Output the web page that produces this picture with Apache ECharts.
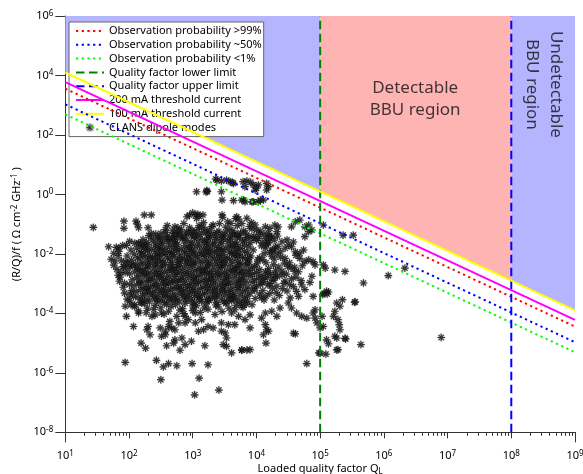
<!DOCTYPE html>
<html><head><meta charset="utf-8">
<script src="https://cdn.jsdelivr.net/npm/echarts@6/dist/echarts.min.js"></script>
<style>html,body{margin:0;padding:0;background:#fff}#c{width:583px;height:474px}</style>
</head><body><div id="c"></div>
<script>
// ---------- axis data ----------
const xMajorTicks = [1e1, 1e2, 1e3, 1e4, 1e5, 1e6, 1e7, 1e8, 1e9];
const yMajorTicks = [1e-8, 1e-6, 1e-4, 1e-2, 1e0, 1e2, 1e4, 1e6];
const minorMultipliers = [2, 3, 4, 5, 6, 7, 8, 9];
const xEndTicks = [1e1, 1e9];

// ---------- reference lines (endpoints) ----------
const obs99 = [[1e1, 3.6e3], [1e9, 3.6e-5]];
const obs50 = [[1e1, 1.07e3], [1e9, 1.07e-5]];
const obs1 = [[1e1, 4.9e2], [1e9, 4.9e-6]];
const qLower = [[1e5, 1e-8], [1e5, 1e6]];
const qUpper = [[1e8, 1e-8], [1e8, 1e6]];
const thr200 = [[1e1, 6.0e3], [1e9, 6.0e-5]];
const thr100 = [[1e1, 1.26e4], [1e9, 1.26e-4]];

// ---------- shaded regions: [q0, q1, lower at q0, lower at q1, top] ----------
const regions = [
  [1e1, 1e5, 1.26e4, 1.26, 1e6],
  [1e5, 1e8, 1.26, 1.26e-3, 1e6],
  [1e8, 1e9, 1.26e-3, 1.26e-4, 1e6]
];
const regionColors = ['#b4b4ff', '#ffb4b4', '#b4b4ff'];

// ---------- annotation anchor points ----------
const detectableAt = [3.1e6, 1.62e3];
const undetectableAt = [3.3e8, 5.0e3];

// ---------- CLANS dipole modes: pairs of (log10 QL, log10 (R/Q)/f) ----------
const clansIsolated = `
1.44,-1.11 1.92,-0.90 1.92,-1.14 2.11,-0.90 2.13,-1.00 2.15,-1.12 2.24,-0.69 2.35,-0.69 2.30,-1.12 2.35,-1.31 2.50,-1.31
1.68,-1.76 1.84,-1.80 1.96,-1.72 1.83,-2.06 1.78,-2.24 2.09,-1.64 2.24,-1.73 1.91,-2.43 2.04,-2.38
2.91,-0.75 2.95,-0.69 3.00,-0.62 3.05,-0.69 3.08,-0.67 3.10,-0.73 3.06,-0.81 3.16,-0.69 3.46,-0.69 3.69,-0.75
2.72,-1.09 2.77,-1.12 2.82,-1.18 2.95,-1.12 3.01,-1.28 3.08,-1.18 3.10,-1.05
3.32,-1.03 3.42,-0.98 3.47,-0.77 3.60,-0.98 3.67,-0.81 3.72,-0.83 3.77,-0.98 3.85,-0.80
2.62,-1.53 2.72,-1.42 2.77,-1.31
3.06,0.09 3.21,0.08 3.23,0.10 3.45,0.09 3.22,0.13
3.46,-0.19 3.64,-0.21 3.80,-0.19 3.95,-0.25 4.11,-0.19 3.77,-0.19 3.82,-0.25 3.93,-0.25
3.38,0.48 3.53,0.48 3.59,0.43 3.64,0.37 3.79,0.43 3.82,0.26 3.95,0.32 3.98,0.15 4.03,0.32 4.16,0.37 3.85,0.45 3.91,0.41 3.36,0.52 3.45,0.45 3.62,0.40
4.03,-0.25 4.06,-0.19 4.00,0.21 4.16,0.15 4.19,0.26
3.98,-1.03 4.14,-1.09 4.21,-1.14 4.29,-1.03 4.34,-1.09 4.32,-1.25 4.19,-1.31 4.24,-1.42 4.14,-1.48 4.03,-1.48
4.55,-1.09 4.61,-0.92 4.68,-0.86 4.76,-1.09 4.82,-1.03 4.82,-1.25 4.76,-1.42 4.87,-1.20
4.40,-1.59 4.48,-1.53 4.34,-1.76 4.45,-1.81 4.55,-1.76 4.61,-1.93 4.68,-1.98 4.74,-1.87 4.76,-2.26 4.82,-2.20 4.89,-2.26 4.92,-2.37
5.05,-1.03 5.36,-1.37 5.52,-1.37 5.05,-2.37 5.08,-2.48 5.23,-2.54 5.39,-2.59
6.07,-2.73 6.33,-2.48 5.68,-2.98 5.10,-3.26 5.13,-3.28 5.06,-3.33 5.04,-3.37 5.11,-3.35 5.35,-3.54 5.54,-3.63
5.26,-3.65 5.31,-3.76 5.23,-3.93 5.21,-4.10 5.28,-4.21 5.30,-4.38 5.31,-4.55 5.23,-4.77 5.26,-4.83 5.10,-4.89 5.13,-5.02
5.40,-4.86 5.64,-5.05 5.28,-5.22 5.09,-5.37 4.98,-5.33 4.79,-5.69 5.55,-3.61 6.90,-4.81 5.00,-5.34 5.26,-5.23 5.39,-4.84
4.89,-3.43 4.92,-3.88 5.03,-4.10 4.89,-3.99 4.92,-4.16 4.95,-4.32 5.05,-4.44 5.00,-4.49 4.61,-4.69 4.15,-5.00
4.87,-2.75 4.84,-2.96 4.71,-3.04 4.76,-3.20 4.63,-3.26 4.66,-3.43 4.53,-3.48 4.50,-3.65 4.37,-3.82 4.55,-3.82 4.63,-3.99
4.71,-4.10 4.79,-4.16 4.32,-4.10 4.24,-3.93 4.14,-3.99 4.08,-4.16 4.14,-4.38 4.16,-4.55 4.11,-4.72 4.19,-4.60 4.58,-4.67 3.85,-5.23 3.77,-5.23
1.94,-5.65 2.19,-5.00 2.26,-5.17 2.43,-5.58 2.54,-5.80 2.62,-5.69 2.75,-5.76 2.99,-5.69 3.24,-5.73 2.50,-6.23 3.10,-6.18 3.03,-6.74 3.41,-6.58
2.59,-5.09 2.70,-5.00 2.72,-4.89 2.80,-5.24 2.83,-4.83 2.88,-5.05 2.98,-4.94 3.19,-5.09
3.45,-4.60 3.51,-4.66 3.53,-4.83 3.48,-5.05 3.53,-5.11 3.61,-5.33 3.77,-5.24 3.90,-5.22 3.90,-4.49 3.56,-4.38 3.66,-4.38 3.45,-4.32
2.07,-4.44 1.96,-4.10 1.94,-3.76 2.28,-4.55 2.33,-4.72 2.30,-4.44 2.49,-4.49 2.57,-4.60 2.62,-4.44 2.67,-4.49 2.72,-4.55 2.51,-4.77 2.57,-4.72
3.04,-4.32 3.09,-4.60 3.17,-4.55 3.24,-4.44 3.32,-4.49 2.88,-4.32 2.93,-4.21 2.78,-4.32
3.72,-4.10 3.82,-4.21 3.90,-4.05 3.77,-3.76 3.79,-3.60 3.93,-3.71 3.64,-3.48 3.61,-3.99
2.15,-3.99 2.09,-3.71 2.20,-3.65 2.36,-4.10 2.41,-4.05 2.51,-3.99 2.64,-4.27 2.75,-4.10 2.88,-4.10 3.04,-3.99 3.14,-4.21
`;
const clansCluster = `
2.57,-1.18 2.78,-1.23 2.99,-1.21 3.19,-1.17 3.41,-1.24 3.58,-1.19 3.80,-1.22 3.93,-1.16
2.42,-1.33 2.58,-1.28 2.71,-1.31 2.90,-1.27 3.06,-1.34 3.21,-1.29 3.33,-1.32 3.52,-1.27 3.66,-1.33 3.83,-1.30 4.12,-1.33
2.31,-1.38 2.45,-1.43 2.60,-1.41 2.72,-1.37 2.85,-1.44 2.98,-1.39 3.10,-1.42 3.25,-1.36 3.37,-1.43 3.49,-1.40 3.63,-1.37 3.74,-1.44 3.88,-1.41 4.20,-1.42
2.22,-1.52 2.35,-1.47 2.47,-1.53 2.56,-1.49 2.69,-1.51 2.80,-1.46 2.91,-1.54 3.03,-1.48 3.15,-1.52 3.24,-1.47 3.36,-1.53 3.48,-1.49 3.59,-1.51 3.70,-1.46 3.82,-1.54 3.95,-1.48 4.21,-1.47
2.01,-1.58 2.15,-1.63 2.27,-1.61 2.39,-1.57 2.50,-1.64 2.62,-1.59 2.73,-1.62 2.86,-1.56 2.97,-1.63 3.08,-1.60 3.21,-1.57 3.31,-1.64 3.43,-1.61 3.55,-1.58 3.66,-1.63 3.78,-1.59 3.90,-1.62 4.19,-1.63
1.90,-1.72 2.19,-1.73 2.30,-1.69 2.41,-1.71 2.53,-1.66 2.64,-1.74 2.76,-1.68 2.88,-1.72 2.99,-1.67 3.11,-1.73 3.23,-1.69 3.34,-1.71 3.46,-1.66 3.57,-1.74 3.69,-1.68 3.81,-1.72 4.08,-1.73
1.80,-1.78 2.12,-1.81 2.24,-1.77 2.35,-1.84 2.47,-1.79 2.58,-1.82 2.70,-1.76 2.82,-1.83 2.93,-1.80 3.05,-1.77 3.17,-1.84 3.28,-1.81 3.40,-1.78 3.52,-1.83 3.63,-1.79 3.75,-1.82 3.88,-1.76 4.14,-1.80 4.30,-1.77
1.84,-1.92 2.03,-1.87 2.17,-1.93 2.29,-1.89 2.41,-1.91 2.52,-1.86 2.64,-1.94 2.75,-1.88 2.87,-1.92 2.99,-1.87 3.11,-1.93 3.22,-1.89 3.34,-1.91 3.46,-1.86 3.58,-1.94 3.69,-1.88 3.81,-1.92 3.95,-1.87 4.25,-1.89
1.76,-1.98 2.08,-2.01 2.20,-1.97 2.32,-2.04 2.44,-1.99 2.55,-2.02 2.67,-1.96 2.79,-2.03 2.90,-2.00 3.02,-1.97 3.14,-2.04 3.25,-2.01 3.37,-1.98 3.49,-2.03 3.61,-1.99 3.73,-2.02 3.86,-1.96 4.12,-2.00
1.97,-2.07 2.13,-2.13 2.25,-2.09 2.37,-2.11 2.48,-2.06 2.60,-2.14 2.71,-2.08 2.83,-2.12 2.95,-2.07 3.07,-2.13 3.19,-2.09 3.30,-2.11 3.42,-2.06 3.54,-2.14 3.66,-2.08 3.78,-2.12 3.91,-2.07 4.05,-2.13 4.38,-2.11
1.72,-2.18 1.88,-2.23 2.04,-2.21 2.17,-2.17 2.29,-2.24 2.41,-2.19 2.52,-2.22 2.64,-2.16 2.76,-2.23 2.87,-2.20 2.99,-2.17 3.11,-2.24 3.22,-2.21 3.34,-2.18 3.46,-2.23 3.58,-2.19 3.70,-2.22 3.83,-2.16 4.10,-2.20 4.28,-2.17
1.95,-2.27 2.10,-2.33 2.22,-2.29 2.34,-2.31 2.45,-2.26 2.57,-2.34 2.68,-2.28 2.80,-2.32 2.92,-2.27 3.04,-2.33 3.16,-2.29 3.27,-2.31 3.39,-2.26 3.51,-2.34 3.63,-2.28 3.75,-2.32 3.88,-2.27 4.01,-2.33 4.44,-2.31
1.76,-2.38 1.92,-2.43 2.06,-2.41 2.18,-2.37 2.30,-2.44 2.42,-2.39 2.53,-2.42 2.65,-2.36 2.77,-2.43 2.88,-2.40 3.00,-2.37 3.12,-2.44 3.23,-2.41 3.35,-2.38 3.47,-2.43 3.59,-2.39 3.71,-2.42 3.84,-2.36 3.97,-2.43 4.27,-2.37 4.49,-2.42
1.81,-2.52 1.99,-2.47 2.14,-2.53 2.26,-2.49 2.38,-2.51 2.49,-2.46 2.61,-2.54 2.72,-2.48 2.84,-2.52 2.96,-2.47 3.08,-2.53 3.20,-2.49 3.31,-2.51 3.43,-2.46 3.55,-2.54 3.67,-2.48 3.79,-2.52 3.92,-2.47 4.05,-2.53 4.19,-2.49 4.54,-2.47
1.94,-2.63 2.09,-2.61 2.21,-2.57 2.33,-2.64 2.45,-2.59 2.56,-2.62 2.68,-2.56 2.80,-2.63 2.91,-2.60 3.03,-2.57 3.15,-2.64 3.26,-2.61 3.38,-2.58 3.50,-2.63 3.62,-2.59 3.74,-2.62 3.87,-2.56 4.00,-2.63 4.14,-2.60 4.30,-2.57 4.60,-2.59
1.83,-2.72 2.01,-2.67 2.16,-2.73 2.28,-2.69 2.40,-2.71 2.51,-2.66 2.63,-2.74 2.74,-2.68 2.86,-2.72 2.98,-2.67 3.10,-2.73 3.22,-2.69 3.33,-2.71 3.45,-2.66 3.57,-2.74 3.69,-2.68 3.81,-2.72 3.94,-2.67 4.07,-2.73 4.22,-2.69 4.40,-2.71
1.86,-2.78 2.12,-2.81 2.24,-2.77 2.36,-2.84 2.48,-2.79 2.59,-2.82 2.71,-2.76 2.83,-2.83 2.94,-2.80 3.06,-2.77 3.18,-2.84 3.29,-2.81 3.41,-2.78 3.53,-2.83 3.65,-2.79 3.77,-2.82 3.90,-2.76 4.03,-2.83 4.17,-2.80 4.33,-2.77 4.62,-2.78
1.85,-2.92 2.05,-2.87 2.19,-2.93 2.31,-2.89 2.43,-2.91 2.54,-2.86 2.66,-2.94 2.77,-2.88 2.89,-2.92 3.01,-2.87 3.13,-2.93 3.25,-2.89 3.36,-2.91 3.48,-2.86 3.60,-2.94 3.72,-2.88 3.84,-2.92 3.97,-2.87 4.11,-2.93 4.26,-2.89 4.45,-2.91
2.01,-3.03 2.15,-3.01 2.27,-2.97 2.39,-3.04 2.51,-2.99 2.62,-3.02 2.74,-2.96 2.86,-3.03 2.97,-3.00 3.09,-2.97 3.21,-3.04 3.32,-3.01 3.44,-2.98 3.56,-3.03 3.68,-2.99 3.80,-3.02 3.93,-2.96 4.06,-3.03 4.21,-3.00 4.52,-3.02
1.91,-3.12 2.08,-3.07 2.22,-3.13 2.34,-3.09 2.46,-3.11 2.57,-3.06 2.69,-3.14 2.80,-3.08 2.92,-3.12 3.04,-3.07 3.16,-3.13 3.28,-3.09 3.39,-3.11 3.51,-3.06 3.63,-3.14 3.75,-3.08 3.87,-3.12 4.00,-3.07 4.32,-3.09
2.04,-3.23 2.18,-3.21 2.30,-3.17 2.42,-3.24 2.54,-3.19 2.65,-3.22 2.77,-3.16 2.89,-3.23 3.00,-3.20 3.12,-3.17 3.24,-3.24 3.35,-3.21 3.47,-3.18 3.59,-3.23 3.71,-3.19 3.83,-3.22 3.96,-3.16 4.10,-3.23 4.41,-3.17
1.93,-3.32 2.11,-3.27 2.25,-3.33 2.37,-3.29 2.49,-3.31 2.60,-3.26 2.72,-3.34 2.83,-3.28 2.95,-3.32 3.07,-3.27 3.19,-3.33 3.31,-3.29 3.42,-3.31 3.54,-3.26 3.66,-3.34 3.78,-3.28 3.90,-3.32 4.21,-3.33
2.07,-3.43 2.21,-3.41 2.33,-3.37 2.45,-3.44 2.57,-3.39 2.68,-3.42 2.80,-3.36 2.92,-3.43 3.03,-3.40 3.15,-3.37 3.27,-3.44 3.38,-3.41 3.50,-3.38 3.62,-3.43 3.74,-3.39 3.86,-3.42 4.15,-3.42
1.97,-3.52 2.14,-3.47 2.28,-3.53 2.40,-3.49 2.52,-3.51 2.63,-3.46 2.75,-3.54 2.86,-3.48 2.98,-3.52 3.10,-3.47 3.22,-3.53 3.34,-3.49 3.45,-3.51 3.57,-3.46 3.69,-3.54 3.81,-3.48 4.08,-3.47
2.01,-3.58 2.18,-3.63 2.32,-3.61 2.44,-3.57 2.56,-3.64 2.68,-3.59 2.79,-3.62 2.91,-3.56 3.03,-3.63 3.14,-3.60 3.26,-3.57 3.38,-3.64 3.49,-3.61 3.61,-3.58 3.73,-3.63 3.86,-3.59
2.03,-3.72 2.24,-3.67 2.41,-3.73 2.59,-3.69 2.73,-3.71 2.88,-3.66 3.06,-3.74 3.21,-3.68 3.36,-3.72 3.52,-3.67 3.68,-3.73 3.84,-3.69
2.09,-3.78 2.29,-3.83 2.50,-3.81 2.66,-3.77 2.84,-3.84 3.01,-3.79 3.18,-3.82 3.40,-3.78 3.57,-3.83 3.79,-3.80
2.15,-3.92 2.39,-3.87 2.62,-3.93 2.80,-3.89 3.00,-3.91 3.24,-3.86 3.46,-3.94 3.66,-3.88
2.27,-3.98 2.55,-4.03 2.86,-4.01 3.12,-3.97 3.35,-4.04
`;
const clansCoreExtra = `
2.18,-1.66 2.44,-1.75 2.71,-1.58 2.95,-1.79 3.19,-1.62 3.41,-1.85 3.62,-1.70 3.27,-1.95 2.58,-1.97 2.33,-2.16 2.79,-2.19
3.05,-2.04 3.49,-2.17 3.71,-2.05 2.13,-2.45 2.41,-2.35 2.66,-2.47 2.93,-2.33 3.18,-2.55 3.42,-2.39 3.66,-2.52 3.86,-2.31
2.25,-2.65 2.49,-2.76 2.75,-2.61 3.01,-2.79 3.27,-2.66 3.53,-2.75 3.77,-2.63 2.17,-2.96 2.42,-3.06 2.69,-2.90 2.95,-3.08
3.21,-2.93 3.47,-3.09 3.72,-2.97 2.29,-3.25 2.56,-3.36 2.82,-3.20 3.08,-3.39 3.34,-3.24 3.60,-3.37 2.21,-3.55 2.47,-3.60
2.73,-3.51 2.99,-3.66 3.25,-3.55 3.53,-3.62 1.98,-2.30 1.87,-2.62 1.93,-2.99 2.02,-3.36 4.02,-2.20 4.18,-2.62 4.09,-2.95
3.97,-3.22 4.35,-2.44 4.27,-2.84 4.47,-2.68 4.24,-2.08 4.38,-1.93 4.16,-1.70 4.00,-1.55 4.43,-2.99 4.55,-2.84 4.31,-3.30
2.88,-1.40 3.14,-1.30 3.45,-1.45 3.70,-1.35 2.64,-1.45 3.96,-1.40 4.06,-1.23 4.28,-1.54
`;
const clansUpperRight = `
2.60,-1.05 2.68,-1.22 2.86,-0.98 2.93,-1.30 3.14,-1.10 3.17,-0.95 3.26,-1.20 3.30,-1.08 3.38,-1.28 3.52,-1.10 3.55,-0.92
3.63,-1.22 3.70,-1.05 3.75,-1.30 3.89,-1.08 3.92,-0.95 4.00,-1.20 3.46,-1.35 3.02,-1.40 2.80,-1.35 2.50,-1.45 3.85,-1.45
3.58,-1.40 3.28,-1.45
4.05,-1.35 4.18,-1.60 4.26,-1.85 4.32,-2.00 4.45,-2.15 4.52,-2.30 4.60,-2.45 4.66,-2.60 4.70,-2.90 4.58,-3.10 4.48,-3.25
4.36,-3.40 4.12,-3.55 4.25,-3.15 4.40,-2.58 4.30,-2.70 4.15,-2.30 4.21,-1.95 4.09,-1.62 4.33,-1.40 4.50,-1.70 4.62,-2.05
4.58,-1.60 4.68,-2.15 4.72,-2.40 4.12,-2.78 4.18,-3.05 4.05,-3.35 3.98,-3.50 4.28,-3.55
`;
const clansCoreFill = `
2.26,-1.85 2.50,-1.90 2.74,-1.83 2.98,-1.92 3.22,-1.80 3.46,-1.93 3.70,-1.80 2.21,-2.04 2.45,-2.10 2.69,-2.02 2.93,-2.14
3.17,-2.00 3.41,-2.12 3.65,-2.00 3.89,-2.13 2.29,-2.38 2.53,-2.30 2.77,-2.36 3.01,-2.28 3.25,-2.35 3.49,-2.29 3.73,-2.37
2.19,-2.58 2.43,-2.66 2.67,-2.55 2.91,-2.67 3.15,-2.57 3.39,-2.68 3.63,-2.56 3.87,-2.66 2.33,-2.84 2.57,-2.95 2.81,-2.86
3.05,-2.94 3.29,-2.85 3.53,-2.95 3.77,-2.86 2.27,-3.15 2.51,-3.22 2.75,-3.12 2.99,-3.25 3.23,-3.14 3.47,-3.23 3.71,-3.13
2.39,-3.43 2.63,-3.52 2.87,-3.41 3.11,-3.53 3.35,-3.42 3.59,-3.52
`;

function parsePairs(s) {
  return s.trim().split(/\s+/).map(p => {
    const [a, b] = p.split(',').map(Number);
    return [Math.pow(10, a), Math.pow(10, b)];
  });
}
const clansData = parsePairs(clansIsolated).concat(
  parsePairs(clansCluster), parsePairs(clansCoreExtra), parsePairs(clansUpperRight), parsePairs(clansCoreFill));

const xMinorTicks = [];
for (let i = 0; i < xMajorTicks.length - 1; i++) {
  minorMultipliers.forEach(m => xMinorTicks.push(m * xMajorTicks[i]));
}

const FONT = 'Noto Sans';
const TXT = '#000';
const tickRich = {
  b: { fontSize: 11, lineHeight: 13, fontFamily: FONT, color: TXT },
  s: { fontSize: 8, lineHeight: 1, verticalAlign: 'top', fontFamily: FONT, color: TXT }
};
function powLabel(v) {
  const e = Math.round(Math.log10(v));
  return '{b|10}{s|' + (e < 0 ? '-' + (-e) : e) + '}';
}

const asterisk = 'path://M-10,-1.5L10,-1.5L10,1.5L-10,1.5Z M-1.5,-10L1.5,-10L1.5,10L-1.5,10Z M-6.01,-8.13L8.13,6.01L6.01,8.13L-8.13,-6.01Z M6.01,-8.13L8.13,-6.01L-6.01,8.13L-8.13,6.01Z';

function mkLine(name, data, color, type, width) {
  return {
    name, type: 'line', data, symbol: 'none', showSymbol: false, silent: true, z: 4,
    lineStyle: { color, width, type, cap: 'butt' }, itemStyle: { color }, clip: true
  };
}
const lineLegendNames = ['Observation probability >99%', 'Observation probability ~50%', 'Observation probability <1%',
  'Quality factor lower limit', 'Quality factor upper limit', '200 mA threshold current', '100 mA threshold current'];

const axisColor = '#333';
const chart = echarts.init(document.getElementById('c'), null, { renderer: 'canvas' });
chart.setOption({
  animation: false,
  backgroundColor: '#fff',
  grid: { left: 65.3, right: 8, top: 16, bottom: 41.7, containLabel: false, outerBoundsMode: 'none' },
  xAxis: [
    {
      type: 'log', logBase: 10, min: 1e1, max: 1e9, interval: 1,
      axisLine: { show: true, lineStyle: { color: axisColor, width: 1 } },
      axisTick: { show: true, length: 6, lineStyle: { color: axisColor } },
      splitLine: { show: false }, minorTick: { show: false },
      axisLabel: { margin: 17, formatter: powLabel, rich: tickRich },
      name: '{n|Loaded quality factor Q}{b|L}', nameLocation: 'middle', nameGap: 30, nameMoveOverlap: false,
      nameTextStyle: {
        rich: {
          n: { fontSize: 11, lineHeight: 13, fontFamily: FONT, color: TXT },
          b: { fontSize: 8, lineHeight: 3, verticalAlign: 'bottom', fontFamily: FONT, color: TXT }
        }
      }
    },
    {
      type: 'log', logBase: 10, min: 1e1, max: 1e9, position: 'bottom',
      axisLine: { show: false }, splitLine: { show: false }, axisLabel: { show: false },
      axisTick: { show: true, length: 3.5, customValues: xMinorTicks, lineStyle: { color: axisColor } }
    },
    {
      type: 'log', logBase: 10, min: 1e1, max: 1e9, position: 'bottom',
      axisLine: { show: false }, splitLine: { show: false }, axisLabel: { show: false },
      axisTick: { show: true, length: 10, customValues: xEndTicks, lineStyle: { color: axisColor } }
    }
  ],
  yAxis: {
    type: 'log', logBase: 10, min: 1e-8, max: 1e6, interval: 2,
    axisLine: { show: true, lineStyle: { color: axisColor, width: 1 } },
    axisTick: { show: true, length: 10, lineStyle: { color: axisColor } },
    splitLine: { show: false }, minorTick: { show: false },
    axisLabel: { margin: 12, formatter: powLabel, rich: tickRich },
    name: '{n|(R/Q)/f ( \u03a9 cm}{s|-2}{n| GHz}{s|-1}{n| )}', nameLocation: 'middle', nameGap: 42, nameRotate: 90,
    nameMoveOverlap: false,
    nameTextStyle: {
      rich: {
        n: { fontSize: 11, lineHeight: 13, fontFamily: FONT, color: TXT },
        s: { fontSize: 8, lineHeight: 3, verticalAlign: 'top', fontFamily: FONT, color: TXT }
      }
    }
  },
  legend: {
    orient: 'vertical', left: 69, top: 22,
    padding: [3, 2, 3, 6], itemWidth: 28, itemHeight: 7, itemGap: 1.8,
    backgroundColor: '#fff', borderColor: '#666', borderWidth: 1, selectedMode: false,
    textStyle: { fontSize: 11, fontFamily: FONT, color: TXT, lineHeight: 12 },
    data: lineLegendNames.map(n => ({ name: n, itemStyle: { opacity: 0 } })).concat([{ name: 'CLANS dipole modes' }])
  },
  series: [
    {
      type: 'custom', silent: true, z: 1, clip: true,
      encode: { x: [0, 1], y: [2, 3, 4] },
      data: regions,
      renderItem: function (params, api) {
        const q0 = api.value(0), q1 = api.value(1), l0 = api.value(2), l1 = api.value(3), top = api.value(4);
        return {
          type: 'polygon',
          shape: { points: [api.coord([q0, top]), api.coord([q1, top]), api.coord([q1, l1]), api.coord([q0, l0])] },
          style: { fill: regionColors[params.dataIndex] }
        };
      }
    },
    {
      name: 'CLANS dipole modes', type: 'scatter', data: clansData, z: 3, silent: true,
      symbol: asterisk, symbolSize: 7.5,
      itemStyle: { color: '#000', borderColor: 'rgba(60,60,60,0.35)', borderWidth: 0.8 }
    },
    mkLine(lineLegendNames[0], obs99, '#ff0000', [2.2, 3.5], 2),
    mkLine(lineLegendNames[1], obs50, '#0000ff', [2.2, 3.5], 2),
    mkLine(lineLegendNames[2], obs1, '#00ff00', [2.2, 3.5], 2),
    mkLine(lineLegendNames[3], qLower, '#008000', [8.5, 4.5], 2),
    mkLine(lineLegendNames[4], qUpper, '#0000ff', [8.5, 4.5], 2),
    mkLine(lineLegendNames[5], thr200, '#ff00ff', 'solid', 2),
    mkLine(lineLegendNames[6], thr100, '#ffff00', 'solid', 2),
    {
      type: 'scatter', silent: true, z: 5, symbolSize: 0,
      data: [
        { value: detectableAt, label: { show: true, position: 'inside', formatter: 'Detectable\nBBU region', fontSize: 17, lineHeight: 22.5, fontFamily: FONT, color: '#111', align: 'center', verticalAlign: 'middle' } },
        { value: undetectableAt, label: { show: true, position: 'inside', rotate: -90, formatter: 'Undetectable\nBBU region', fontSize: 17, lineHeight: 24, fontFamily: FONT, color: '#111', align: 'center', verticalAlign: 'middle' } }
      ]
    }
  ]
});
</script>
</body></html>
